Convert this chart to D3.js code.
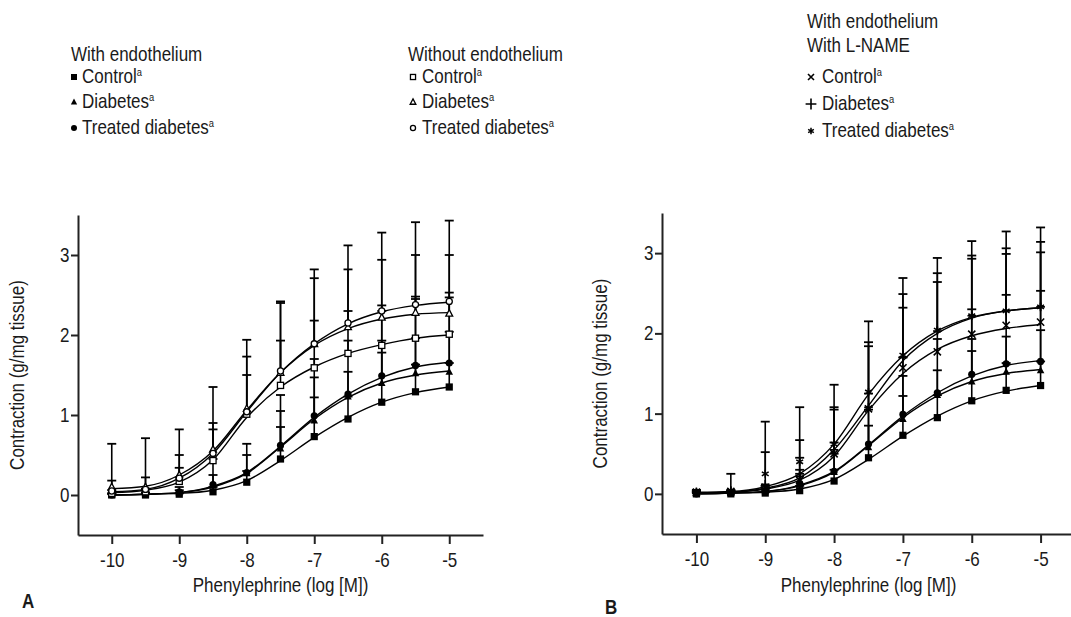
<!DOCTYPE html>
<html><head><meta charset="utf-8">
<script src="https://cdn.jsdelivr.net/npm/d3@7"></script>
<style>
body{margin:0;background:#fff;}
svg{display:block;font-family:"Liberation Sans",Arial,sans-serif;}
</style></head><body>
<svg id="c" width="1071" height="617"></svg>
<script>
// ---------- DATA ----------
const doses = [-10, -9.5, -9, -8.5, -8, -7.5, -7, -6.5, -6, -5.5, -5];
const xTicks = [-10, -9, -8, -7, -6, -5];
const yTicks = [0, 1, 2, 3];

// With endothelium (panels A and B)
const ctrlE    = [0.00, 0.00, 0.01, 0.04, 0.16, 0.45, 0.73, 0.95, 1.16, 1.29, 1.35];
const ctrlEFit = [0.00, 0.01, 0.02, 0.06, 0.18, 0.43, 0.72, 0.97, 1.16, 1.28, 1.35];
const ctrlETop = [0.01, 0.01, 0.02, 0.10, 0.30, 0.85, 1.22, 1.23, 1.78, 1.63, 1.65];
const diabE    = [0.00, 0.01, 0.03, 0.12, 0.27, 0.58, 0.93, 1.23, 1.40, 1.52, 1.54];
const diabEFit = [0.00, 0.01, 0.03, 0.10, 0.27, 0.60, 0.95, 1.22, 1.40, 1.50, 1.55];
const diabETop = [0.02, 0.03, 0.06, 0.25, 0.50, 1.05, 1.47, 1.54, 1.93, 1.96, 2.04];
const treatE    = [0.00, 0.01, 0.04, 0.13, 0.28, 0.62, 0.99, 1.26, 1.49, 1.62, 1.65];
const treatEFit = [0.00, 0.01, 0.03, 0.11, 0.28, 0.61, 0.97, 1.26, 1.47, 1.60, 1.66];
const treatETop = [0.02, 0.03, 0.10, 0.45, 0.64, 1.25, 1.70, 1.93, 2.30, 2.48, 2.53];

// Without endothelium (panel A)
const ctrlN    = [0.02, 0.04, 0.17, 0.43, 1.01, 1.37, 1.59, 1.77, 1.87, 1.96, 2.01];
const ctrlNFit = [0.03, 0.06, 0.16, 0.44, 0.97, 1.35, 1.60, 1.77, 1.88, 1.96, 2.00];
const ctrlNTop = [0.06, 0.08, 0.34, 0.82, 1.50, 1.93, 2.18, 2.30, 2.37, 2.45, 2.47];
const diabN    = [0.10, 0.10, 0.25, 0.57, 1.08, 1.53, 1.89, 2.10, 2.22, 2.28, 2.27];
const diabNFit = [0.08, 0.11, 0.25, 0.55, 1.06, 1.53, 1.87, 2.08, 2.20, 2.26, 2.28];
const diabNTop = [0.64, 0.71, 0.82, 1.35, 1.94, 2.42, 2.82, 3.12, 3.28, 3.41, 3.43];
const treatN    = [0.05, 0.07, 0.21, 0.52, 1.04, 1.55, 1.89, 2.15, 2.30, 2.38, 2.42];
const treatNFit = [0.04, 0.07, 0.21, 0.52, 1.04, 1.53, 1.89, 2.14, 2.29, 2.37, 2.41];
const treatNTop = [0.18, 0.22, 0.50, 0.90, 1.73, 2.40, 2.71, 2.82, 2.94, 3.00, 3.00];

// With endothelium + L-NAME (panel B)
const ctrlL    = [0.02, 0.03, 0.08, 0.17, 0.50, 1.06, 1.57, 1.77, 1.99, 2.10, 2.14];
const ctrlLFit = [0.01, 0.02, 0.06, 0.17, 0.47, 1.04, 1.50, 1.80, 1.97, 2.06, 2.11];
const ctrlLTop = [0.03, 0.04, 0.10, 0.30, 1.05, 1.84, 2.32, 2.64, 2.93, 2.99, 3.01];
const diabL    = [0.02, 0.04, 0.12, 0.22, 0.55, 1.08, 1.70, 2.03, 2.22, 2.28, 2.33];
const diabLFit = [0.01, 0.02, 0.07, 0.20, 0.55, 1.10, 1.66, 2.00, 2.19, 2.28, 2.32];
const diabLTop = [0.04, 0.05, 0.52, 0.67, 1.08, 1.89, 2.49, 2.75, 2.97, 3.06, 3.14];
const treatL    = [0.03, 0.04, 0.25, 0.40, 0.62, 1.27, 1.73, 2.04, 2.22, 2.28, 2.33];
const treatLFit = [0.02, 0.03, 0.09, 0.25, 0.62, 1.24, 1.72, 2.03, 2.20, 2.28, 2.32];
const treatLTop = [0.05, 0.25, 0.90, 1.08, 1.36, 2.15, 2.69, 2.94, 3.15, 3.27, 3.32];

// Legend texts
const legendTitleA1 = ["With endothelium"];
const legendTitleA2 = ["Without endothelium"];
const legendTitleB  = ["With endothelium", "With L-NAME"];
const groupLabels = ["Control", "Diabetes", "Treated diabetes"];
const xTitle = "Phenylephrine (log [M])";
const yTitle = "Contraction (g/mg tissue)";

// ---------- DRAWING ----------
const svg = d3.select("#c");
const FS = 20;      // font size
const SX = 0.85;    // horizontal condensing (reference uses a condensed face)
const INK = "#1a1a1a";

function txt(g, x, y, str, anchor, rot) {
  const t = g.append("text")
    .attr("transform", `translate(${x},${y})${rot ? " rotate(" + rot + ")" : ""} scale(${SX},1)`)
    .attr("text-anchor", anchor || "start")
    .style("font-size", FS + "px").attr("fill", INK);
  if (str !== null) t.text(str);
  return t;
}

function sym(g, type, cx, cy, s) {
  const k = "#000";
  switch (type) {
    case "sqF": g.append("rect").attr("x", cx - s).attr("y", cy - s).attr("width", 2*s).attr("height", 2*s).attr("fill", k); break;
    case "sqO": g.append("rect").attr("x", cx - s*0.85).attr("y", cy - s*0.85).attr("width", 1.7*s).attr("height", 1.7*s).attr("fill", "#fff").attr("stroke", k).attr("stroke-width", 1.3); break;
    case "triF": g.append("path").attr("d", `M${cx},${cy - s*1.15}L${cx + s*1.05},${cy + s*0.8}L${cx - s*1.05},${cy + s*0.8}Z`).attr("fill", k); break;
    case "triO": g.append("path").attr("d", `M${cx},${cy - s*1.05}L${cx + s*0.95},${cy + s*0.75}L${cx - s*0.95},${cy + s*0.75}Z`).attr("fill", "#fff").attr("stroke", k).attr("stroke-width", 1.3); break;
    case "cirF": g.append("circle").attr("cx", cx).attr("cy", cy).attr("r", s).attr("fill", k); break;
    case "cirO": g.append("circle").attr("cx", cx).attr("cy", cy).attr("r", s*0.85).attr("fill", "#fff").attr("stroke", k).attr("stroke-width", 1.3); break;
    case "x": g.append("path").attr("d", `M${cx - s},${cy - s}L${cx + s},${cy + s}M${cx - s},${cy + s}L${cx + s},${cy - s}`).attr("stroke", k).attr("stroke-width", 1.6).attr("fill", "none"); break;
    case "plus": g.append("path").attr("d", `M${cx - s*1.2},${cy}L${cx + s*1.2},${cy}M${cx},${cy - s*1.2}L${cx},${cy + s*1.2}`).attr("stroke", k).attr("stroke-width", 1.6).attr("fill", "none"); break;
    case "star": {
      const r = s*1.1; let d = "";
      [90, 30, 150].forEach(a => {
        const dx = r*Math.cos(a*Math.PI/180), dy = r*Math.sin(a*Math.PI/180);
        d += `M${cx - dx},${cy - dy}L${cx + dx},${cy + dy}`;
      });
      g.append("path").attr("d", d).attr("stroke", k).attr("stroke-width", 1.5).attr("fill", "none"); break;
    }
  }
}

function panel(opt) {
  const x = d3.scaleLinear().domain([-10.5, -4.5]).range(opt.xr);
  const y = d3.scaleLinear().domain([-0.5, 3.5]).range(opt.yr);
  const g = svg.append("g");

  // axes
  const xa = g.append("g").attr("transform", `translate(0,${opt.yr[0]})`)
    .call(d3.axisBottom(x).tickValues(xTicks).tickSize(9).tickSizeOuter(0).tickPadding(9).tickFormat(d => d));
  const ya = g.append("g").attr("transform", `translate(${opt.xr[0]},0)`)
    .call(d3.axisLeft(y).tickValues(yTicks).tickSize(7).tickSizeOuter(0).tickPadding(3).tickFormat(d => d));
  [xa, ya].forEach(a => {
    a.select(".domain").attr("stroke", "#222").attr("stroke-width", 2);
    a.selectAll(".tick line").attr("stroke", "#222").attr("stroke-width", 2);
    a.selectAll(".tick text").attr("fill", INK).style("font-size", FS + "px").style("font-family", "inherit")
      .attr("transform", `scale(${SX},1)`);
  });

  txt(g, (x(-10) + x(-5)) / 2, opt.xTitleY, xTitle, "middle");
  txt(g, opt.yTitleX, (opt.yr[0] + opt.yr[1]) / 2, yTitle, "middle", -90);
  txt(g, opt.letterX, opt.letterY, opt.letter).style("font-weight", "bold");

  const line = d3.line().x((d, i) => x(doses[i])).y(d => y(d)).curve(d3.curveMonotoneX);

  // fitted curves
  opt.series.forEach(s => {
    g.append("path").attr("d", line(s.fit)).attr("fill", "none").attr("stroke", "#000").attr("stroke-width", 1.4);
  });
  // upper error bars
  opt.series.forEach(s => {
    doses.forEach((dv, i) => {
      const cx = x(dv), y0 = y(s.mean[i]), y1 = y(s.top[i]);
      g.append("line").attr("x1", cx).attr("x2", cx).attr("y1", y0).attr("y2", y1).attr("stroke", "#000").attr("stroke-width", 1.6);
      g.append("line").attr("x1", cx - 4.5).attr("x2", cx + 4.5).attr("y1", y1).attr("y2", y1).attr("stroke", "#000").attr("stroke-width", 1.8);
    });
  });
  // markers
  opt.series.forEach(s => {
    doses.forEach((dv, i) => sym(g, s.sym, x(dv), y(s.mean[i]), 3.6));
  });
}

function legend(x0, titleLines, titleYs, syms, itemYs, symX, textX) {
  const g = svg.append("g");
  titleLines.forEach((t, i) => txt(g, x0, titleYs[i], t));
  groupLabels.forEach((lab, i) => {
    const yy = itemYs[i];
    sym(g, syms[i], symX, yy - 6, syms[i] === "plus" ? 4.5 : 3.0);
    const t = txt(g, textX, yy, null);
    t.append("tspan").text(lab);
    t.append("tspan").attr("dy", -7).style("font-size", "11px").text("a");
  });
}

panel({
  xr: [78, 483], yr: [535, 215], xTitleY: 592, yTitleX: 24, letter: "A", letterX: 22, letterY: 608,
  series: [
    { mean: ctrlE, fit: ctrlEFit, top: ctrlETop, sym: "sqF" },
    { mean: diabE, fit: diabEFit, top: diabETop, sym: "triF" },
    { mean: treatE, fit: treatEFit, top: treatETop, sym: "cirF" },
    { mean: ctrlN, fit: ctrlNFit, top: ctrlNTop, sym: "sqO" },
    { mean: diabN, fit: diabNFit, top: diabNTop, sym: "triO" },
    { mean: treatN, fit: treatNFit, top: treatNTop, sym: "cirO" }
  ]
});

panel({
  xr: [662, 1075], yr: [534, 213], xTitleY: 592, yTitleX: 607, letter: "B", letterX: 605, letterY: 614,
  series: [
    { mean: ctrlE, fit: ctrlEFit, top: ctrlETop, sym: "sqF" },
    { mean: diabE, fit: diabEFit, top: diabETop, sym: "triF" },
    { mean: treatE, fit: treatEFit, top: treatETop, sym: "cirF" },
    { mean: ctrlL, fit: ctrlLFit, top: ctrlLTop, sym: "x" },
    { mean: diabL, fit: diabLFit, top: diabLTop, sym: "plus" },
    { mean: treatL, fit: treatLFit, top: treatLTop, sym: "star" }
  ]
});

legend(71, legendTitleA1, [61], ["sqF", "triF", "cirF"], [83, 108, 134], 74, 82);
legend(408, legendTitleA2, [61], ["sqO", "triO", "cirO"], [83, 108, 134], 413, 422);
legend(807, legendTitleB, [28, 52], ["x", "plus", "star"], [83, 110, 137], 811, 822);
</script>
</body></html>
